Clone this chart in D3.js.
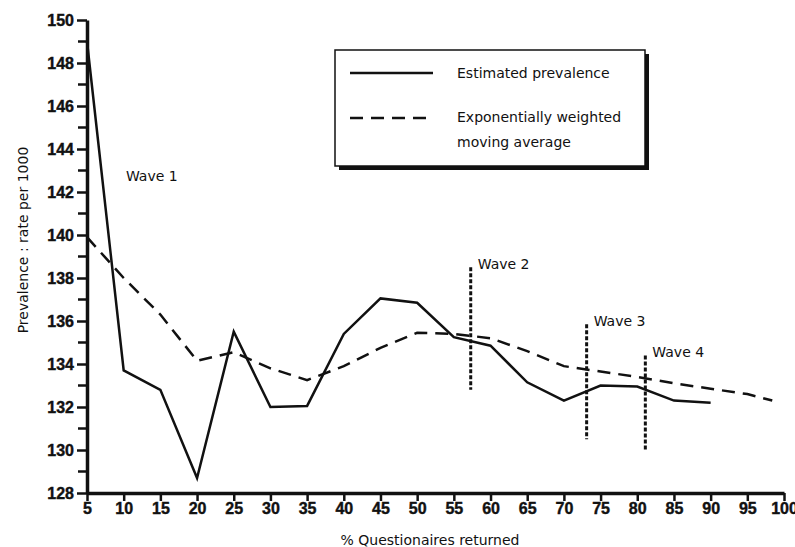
<!DOCTYPE html>
<html>
<head>
<meta charset="utf-8">
<script src="https://cdn.jsdelivr.net/npm/d3@7"></script>
<style>
    body { margin: 0; background: #fff; }
    svg text { font-family: "DejaVu Sans", sans-serif; fill: #111; }
</style>
</head>
<body>
<svg id="mainSvg" width="795" height="547"></svg>
<script>
// Values
let returned = [5, 10, 15, 20, 25, 30, 35, 40, 45, 50, 55, 60, 65, 70, 75, 80, 85, 90];
let prevalence = [149.0, 133.7, 132.8, 128.7, 135.5, 132.0, 132.05, 135.4, 137.05, 136.85, 135.25, 134.85, 133.15, 132.3, 133.0, 132.95, 132.3, 132.2];

let ewmaX = [5, 10, 15, 20, 25, 30, 35, 40, 45, 50, 55, 60, 65, 70, 75, 80, 85, 90, 95, 98.4];
let ewmaY = [139.9, 138.0, 136.3, 134.15, 134.55, 133.8, 133.25, 133.9, 134.75, 135.45, 135.4, 135.2, 134.6, 133.9, 133.65, 133.4, 133.1, 132.85, 132.6, 132.3];

let waveNames = ["Wave 2", "Wave 3", "Wave 4"];
let waveX = [57.3, 73.1, 81.1];
let waveTop = [138.5, 135.85, 134.4];
let waveBottom = [132.8, 130.5, 130.0];

let xTicks = d3.range(5, 101, 5);
let yTicks = d3.range(128, 151, 2);
let yMinor = d3.range(129, 150, 2);

let svg = d3.select("#mainSvg");

let x = d3.scaleLinear().domain([5, 100]).range([87, 784]);
let y = d3.scaleLinear().domain([128, 150]).range([493, 20]);

// Axes
let axes = svg.append("g");

let styleTicks = function (g) {
    g.select(".domain").attr("stroke-width", 3.5).attr("stroke", "#111");
    g.selectAll(".tick line").attr("stroke-width", 2.5).attr("stroke", "#111");
    g.selectAll(".tick text")
        .style("font-family", "Liberation Sans, Arial, sans-serif")
        .attr("font-size", 16)
        .attr("font-weight", "bold")
        .attr("fill", "#111")
        .attr("stroke", "#111")
        .attr("stroke-width", 0.4);
};

let xAxis = axes.append("g")
    .attr("transform", "translate(0," + y(128) + ")")
    .call(d3.axisBottom(x).tickValues(xTicks).tickSize(8).tickPadding(2).tickSizeOuter(0));
styleTicks(xAxis);

let yAxis = axes.append("g")
    .attr("transform", "translate(" + x(5) + ",0)")
    .call(d3.axisLeft(y).tickValues(yTicks).tickSize(10).tickPadding(3).tickSizeOuter(0));
styleTicks(yAxis);

yAxis.selectAll("line.minor")
    .data(yMinor)
    .join("line")
    .attr("class", "minor")
    .attr("x1", -9).attr("x2", 0)
    .attr("y1", (d) => y(d)).attr("y2", (d) => y(d))
    .attr("stroke", "#111").attr("stroke-width", 2.5);

// Axis titles
axes.append("text")
    .attr("x", 430).attr("y", 545)
    .attr("text-anchor", "middle")
    .attr("font-size", 14)
    .text("% Questionaires returned");

axes.append("text")
    .attr("transform", "translate(28,240) rotate(-90)")
    .attr("text-anchor", "middle")
    .attr("font-size", 14)
    .text("Prevalence : rate per 1000");

// Lines
let lines = svg.append("g");

let line = d3.line().x((d) => x(d[0])).y((d) => y(d[1]));

lines.append("path")
    .datum(d3.zip(ewmaX, ewmaY))
    .attr("d", line)
    .attr("fill", "none")
    .attr("stroke", "#111")
    .attr("stroke-width", 2.5)
    .attr("stroke-dasharray", "13,8");

lines.append("path")
    .datum(d3.zip(returned, prevalence))
    .attr("d", line)
    .attr("fill", "none")
    .attr("stroke", "#111")
    .attr("stroke-width", 2.5);

// Wave markers
let waves = svg.append("g");

waves.selectAll("line")
    .data(waveNames)
    .join("line")
    .attr("x1", (d, i) => x(waveX[i]))
    .attr("x2", (d, i) => x(waveX[i]))
    .attr("y1", (d, i) => y(waveTop[i]))
    .attr("y2", (d, i) => y(waveBottom[i]))
    .attr("stroke", "#111")
    .attr("stroke-width", 3)
    .attr("stroke-dasharray", "4,2");

waves.selectAll("text")
    .data(waveNames)
    .join("text")
    .attr("x", (d, i) => x(waveX[i]) + 7)
    .attr("y", (d, i) => y(waveTop[i]) + 2)
    .attr("font-size", 14)
    .text((d) => d);

waves.append("text")
    .attr("x", x(10.3))
    .attr("y", y(142.75) + 5)
    .attr("font-size", 14)
    .text("Wave 1");

// Legend
let legend = svg.append("g");

legend.append("rect")
    .attr("x", 339).attr("y", 54)
    .attr("width", 310).attr("height", 116)
    .attr("fill", "#111");
legend.append("rect")
    .attr("x", 335).attr("y", 50)
    .attr("width", 310).attr("height", 116)
    .attr("fill", "#fff")
    .attr("stroke", "#111")
    .attr("stroke-width", 1.5);

legend.append("line")
    .attr("x1", 350).attr("x2", 433)
    .attr("y1", 73).attr("y2", 73)
    .attr("stroke", "#111").attr("stroke-width", 2.5);
legend.append("line")
    .attr("x1", 350).attr("x2", 433)
    .attr("y1", 118).attr("y2", 118)
    .attr("stroke", "#111").attr("stroke-width", 2.5)
    .attr("stroke-dasharray", "13,8");

legend.append("text").attr("x", 457).attr("y", 78).attr("font-size", 14).text("Estimated prevalence");
legend.append("text").attr("x", 457).attr("y", 122).attr("font-size", 14).text("Exponentially weighted");
legend.append("text").attr("x", 457).attr("y", 147).attr("font-size", 14).text("moving average");
</script>
</body>
</html>
